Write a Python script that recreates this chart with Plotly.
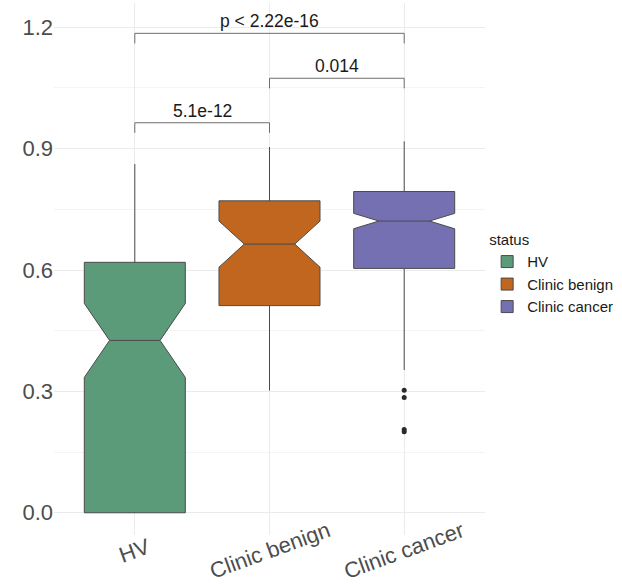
import plotly.graph_objects as go

# Groups and box statistics
status = ["HV", "Clinic benign", "Clinic cancer"]
fill_colors = ["#5B9B7A", "#C0661E", "#7470B2"]
q1 = [0.000, 0.512, 0.604]
median = [0.426, 0.664, 0.721]
q3 = [0.619, 0.771, 0.794]
lower_whisker = [0.000, 0.302, 0.353]
upper_whisker = [0.862, 0.904, 0.918]
notch_half = [0.0915, 0.057, 0.019]

# Outlying points (Clinic cancer)
outlier_group = ["Clinic cancer", "Clinic cancer", "Clinic cancer", "Clinic cancer"]
outlier_value = [0.303, 0.285, 0.206, 0.200]

# Pairwise comparisons
pair_left = ["HV", "Clinic benign", "HV"]
pair_right = ["Clinic benign", "Clinic cancer", "Clinic cancer"]
pair_y = [0.964, 1.074, 1.185]
pair_label = ["5.1e-12", "0.014", "p < 2.22e-16"]
tip = 0.025

y_ticks = [0.0, 0.3, 0.6, 0.9, 1.2]

fig = go.Figure()

for name, col, a, m, b, lo, hi, ns in zip(status, fill_colors, q1, median, q3,
                                          lower_whisker, upper_whisker, notch_half):
    fig.add_trace(go.Box(
        name=name, x=[name], q1=[a], median=[m], q3=[b],
        lowerfence=[lo], upperfence=[hi], notchspan=[ns],
        notched=True, notchwidth=0.25, width=0.75, whiskerwidth=0,
        fillcolor=col, line=dict(color="#4a4a4a", width=1),
        boxpoints=False, hoverinfo="skip", legendgroup=name,
    ))

fig.add_trace(go.Scatter(
    x=outlier_group, y=outlier_value, mode="markers",
    marker=dict(color="#2b2b2b", size=5), showlegend=False, hoverinfo="skip",
))

idx = {s: i for i, s in enumerate(status)}
for l, r, yv, lab in zip(pair_left, pair_right, pair_y, pair_label):
    fig.add_trace(go.Scatter(
        x=[l, l, r, r], y=[yv - tip, yv, yv, yv - tip], mode="lines",
        line=dict(color="#6e6e6e", width=1), showlegend=False, hoverinfo="skip",
    ))
    fig.add_annotation(
        x=(idx[l] + idx[r]) / 2, y=yv, xref="x", yref="y",
        text=lab, showarrow=False, yanchor="bottom", yshift=0,
        font=dict(family="Liberation Sans, Arial", size=17.5, color="#1a1a1a"),
    )

# Rotated category labels under the panel
for s in status:
    fig.add_annotation(
        x=s, y=-0.029, xref="x", yref="paper", text=s, showarrow=False,
        textangle=-20, xanchor="center", yanchor="middle",
        font=dict(family="Liberation Sans, Arial", size=22, color="#4d4d4d"),
    )

fig.update_layout(
    width=622, height=585,
    margin=dict(l=54, r=137, t=3, b=50),
    paper_bgcolor="white", plot_bgcolor="white",
    font=dict(family="Liberation Sans, Arial", color="#4d4d4d"),
    showlegend=True,
    legend=dict(
        title=dict(text="status", font=dict(size=15, color="#1a1a1a")),
        font=dict(size=15, color="#1a1a1a"),
        x=1.005, xanchor="left", y=0.49, yanchor="middle",
        tracegroupgap=0, itemwidth=30,
    ),
    xaxis=dict(
        type="category", categoryorder="array", categoryarray=status,
        range=[-0.6, 2.6], showticklabels=False, ticks="",
        showgrid=True, gridcolor="#ebebeb", gridwidth=1,
        zeroline=False, showline=False,
    ),
    yaxis=dict(
        range=[-0.055, 1.26], tickvals=y_ticks, tickformat=".1f",
        tickfont=dict(size=22, color="#4d4d4d"), ticks="",
        showgrid=True, gridcolor="#ebebeb", gridwidth=1,
        minor=dict(dtick=0.15, tick0=0, showgrid=True, gridcolor="#f4f4f4", gridwidth=1),
        zeroline=False, showline=False,
    ),
)

fig.write_html("out.html")
